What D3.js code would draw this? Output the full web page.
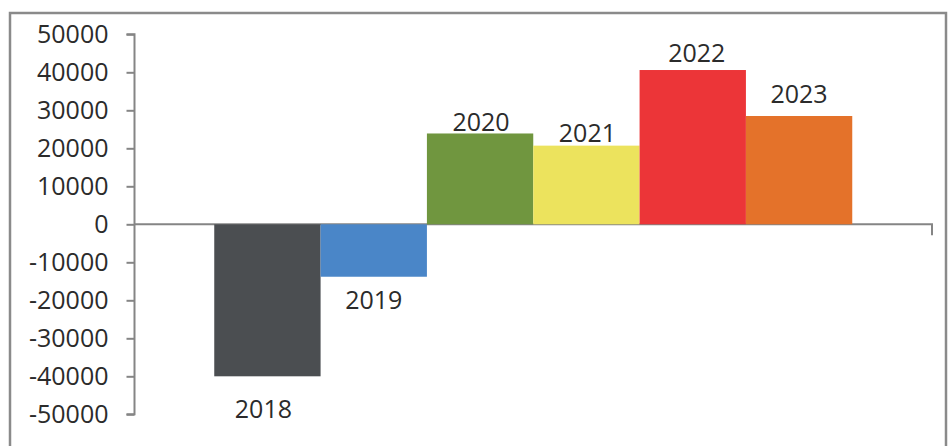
<!DOCTYPE html>
<html>
<head>
<meta charset="utf-8">
<script src="https://cdn.jsdelivr.net/npm/d3@7"></script>
<style>
  html, body { margin: 0; padding: 0; background: #fff; }
  svg { display: block; }
</style>
</head>
<body>
<svg id="chart" width="950" height="446"></svg>
<script>
const categories = ["2018", "2019", "2020", "2021", "2022", "2023"];
const values = [-40000, -13800, 23900, 20700, 40600, 28500];
const colors = ["#4b4e51", "#4a86c8", "#70963f", "#ece35d", "#ec3538", "#e4722a"];
const yTicks = [50000, 40000, 30000, 20000, 10000, 0, -10000, -20000, -30000, -40000, -50000];

// manual label nudges (px), as placed in the original chart
const labelDx = [-4, 0, 1, 1, 4, 0];
const labelDy = [42, 32, -2, -4, -8, -13];

const svg = d3.select("#chart");
const plotLeft = 134.5, plotRight = 932, plotTop = 34.3, plotBottom = 414.3;
const axisColor = "#858585";
const textColor = "#2b2b2b";
const font = "'Open Sans', sans-serif";
const fontSize = "25px";

// outer frame
svg.append("rect")
  .attr("x", 10).attr("y", 13)
  .attr("width", 936).attr("height", 445)
  .attr("fill", "none").attr("stroke", "#8a8a8a").attr("stroke-width", 2.5);

const x = d3.scaleBand().domain(categories).range([plotLeft, plotRight]).paddingInner(0).paddingOuter(0.75);
const y = d3.scaleLinear().domain([-50000, 50000]).range([plotBottom, plotTop]);

// y axis
const yAxis = d3.axisLeft(y).tickValues(yTicks).tickSize(8).tickPadding(18).tickFormat(d => String(d));
const gy = svg.append("g").attr("transform", `translate(${plotLeft},0)`).call(yAxis);
gy.select(".domain").attr("stroke", axisColor).attr("stroke-width", 2)
  .attr("d", `M-8,${y(50000)}H0V${y(-50000)}H-8`);
gy.selectAll(".tick line").attr("stroke", axisColor).attr("stroke-width", 2);
gy.selectAll(".tick text").attr("fill", textColor).style("font-family", font).style("font-size", fontSize);

// x axis (zero line)
svg.append("path")
  .attr("d", `M${plotLeft},${y(0)}H${plotRight}V${y(0) + 11}`)
  .attr("fill", "none").attr("stroke", axisColor).attr("stroke-width", 2);

// bars
svg.append("g").selectAll("rect").data(categories).join("rect")
  .attr("x", d => x(d))
  .attr("width", x.bandwidth())
  .attr("y", (d, i) => y(Math.max(0, values[i])))
  .attr("height", (d, i) => Math.abs(y(values[i]) - y(0)))
  .attr("fill", (d, i) => colors[i]);

// labels
svg.append("g").selectAll("text").data(categories).join("text")
  .attr("x", (d, i) => x(d) + x.bandwidth() / 2 + labelDx[i])
  .attr("y", (d, i) => y(values[i]) + labelDy[i])
  .attr("text-anchor", "middle")
  .attr("fill", textColor)
  .style("font-family", font).style("font-size", fontSize)
  .text(d => d);
</script>
</body>
</html>
